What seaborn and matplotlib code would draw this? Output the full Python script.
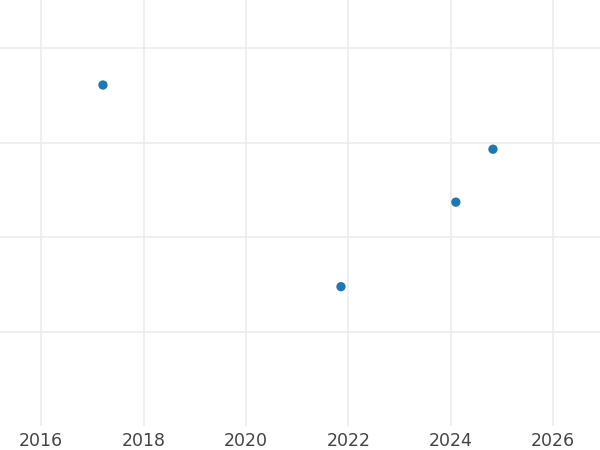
import matplotlib
matplotlib.use("Agg")
import matplotlib.pyplot as plt
import matplotlib.dates as mdates
import numpy as np
import pandas as pd
import seaborn as sns

# data
dates = ["2017-03-17", "2021-11-10", "2024-02-08", "2024-10-30"]
values = [3.61, 1.475, 2.37, 2.93]

df = pd.DataFrame({"date": pd.to_datetime(dates), "value": values})

sns.set_style("white")
fig = plt.figure(figsize=(6, 4.5), dpi=100)
ax = fig.add_axes([0, 24 / 450, 1, 426 / 450])

sns.scatterplot(data=df, x="date", y="value", ax=ax, s=45, color="#1f77b4",
                edgecolor="none", zorder=3)

ax.set_xlim(pd.Timestamp("2015-03-13"), pd.Timestamp("2026-12-03"))
ax.set_ylim(0, 4.51)
ax.xaxis.set_major_locator(mdates.YearLocator(2))
ax.xaxis.set_major_formatter(mdates.DateFormatter("%Y"))
ax.set_yticks([1, 2, 3, 4])
ax.set_yticklabels([])
ax.grid(True, color="#ebebeb", linewidth=1.1)
ax.set_axisbelow(True)
ax.tick_params(axis="both", length=0)
ax.tick_params(axis="x", labelsize=12.5, labelcolor="#444444", pad=4)
ax.set_xlabel("")
ax.set_ylabel("")
for s in ax.spines.values():
    s.set_visible(False)

fig.savefig("out.png", dpi=100)
